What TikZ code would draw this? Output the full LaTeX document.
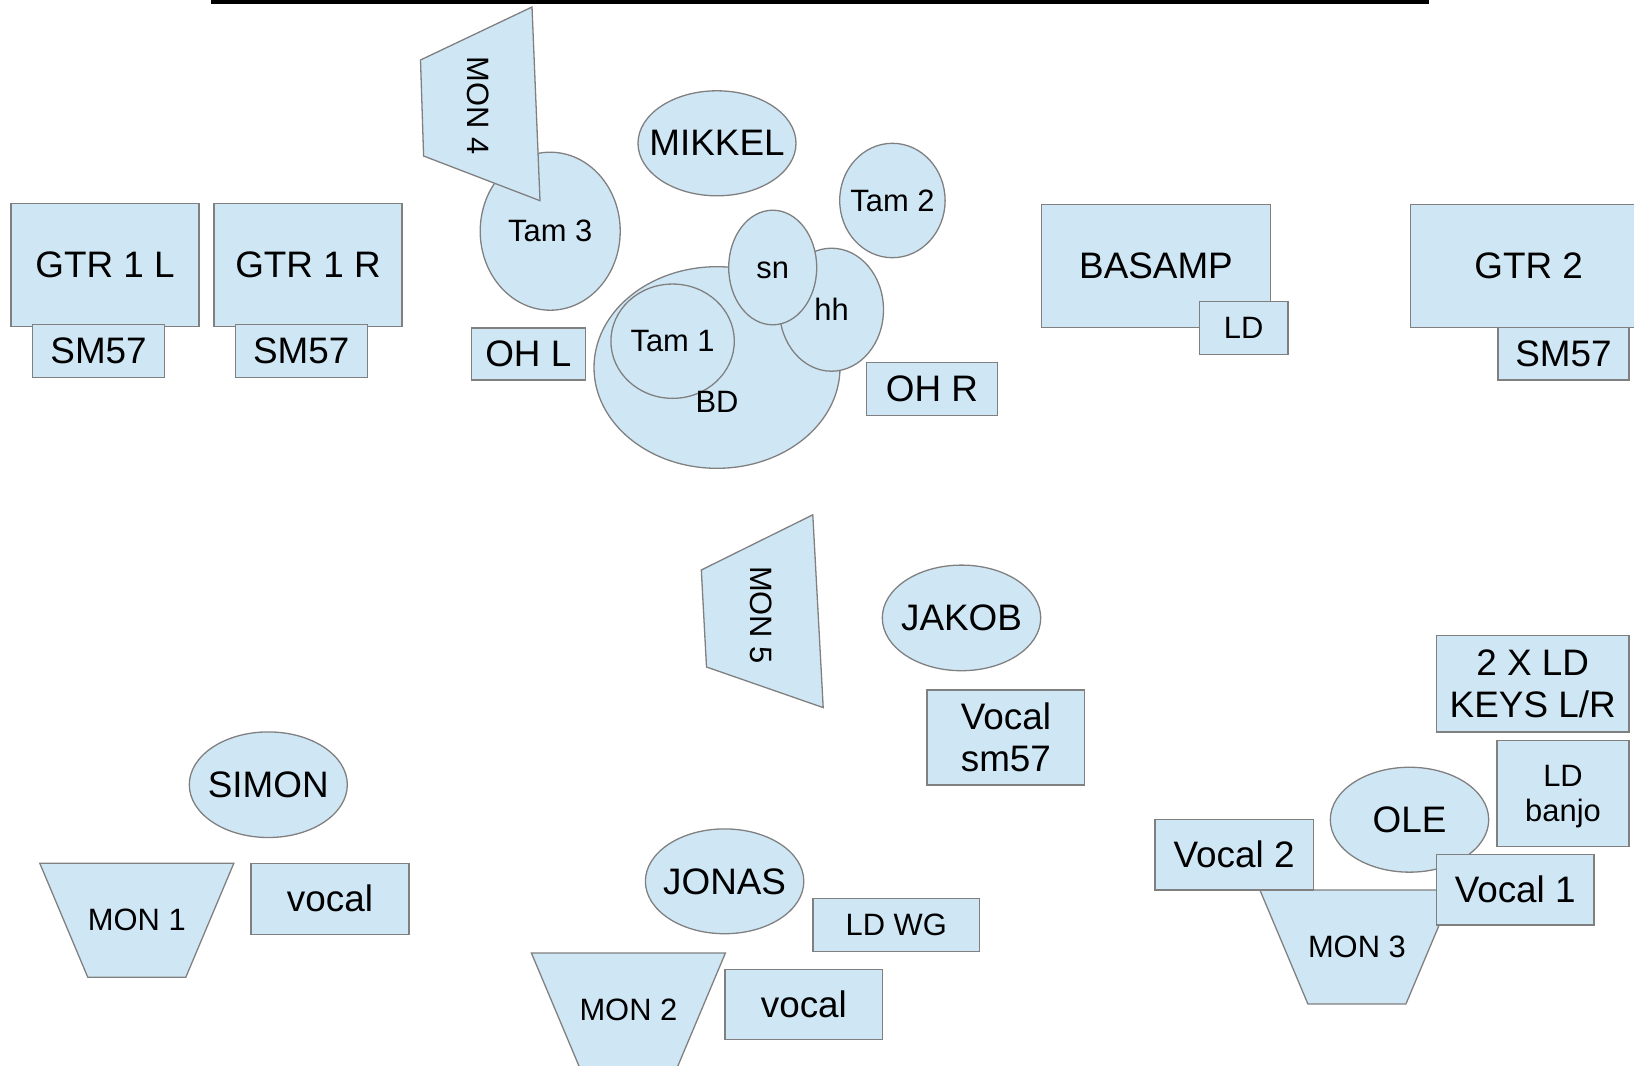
\documentclass[tikz,border=0pt]{standalone}
\usepackage{fontspec}
\setmainfont{Liberation Sans}
\usetikzlibrary{calc,shapes.geometric}
\definecolor{stageblue}{RGB}{207,231,245}
\definecolor{stageedge}{RGB}{128,128,128}
\tikzset{
  stage/.style={
    fill=stageblue,
    draw=stageedge,
    line width=1.3bp
  },
  box/.style={stage, rectangle, inner sep=0pt, align=center},
  blob/.style={stage, ellipse, inner sep=0pt},
  bigtxt/.style={font=\fontsize{37}{42}\selectfont},
  smalltxt/.style={font=\fontsize{31}{35}\selectfont}
}
\newcommand{\wedgemon}[3]{%
  \draw[stage] ($(#2)+(-97,-57)$) -- ++(194,0) -- ++(-48,114)
    -- ++(-98,0) -- cycle;
  \node[smalltxt] (#1) at (#2) {#3};
}

\begin{document}
\begin{tikzpicture}[x=1bp, y=-1bp]
  \useasboundingbox (0,0) rectangle (1634,1065);
  \clip (0,0) rectangle (1634,1065);
  \fill[black] (211,0) rectangle (1428.5,3.5);
  \foreach \name/\x/\txt in {gtrL/105.1/GTR 1 L, gtrR/308/GTR 1 R} {
    \node[box, bigtxt, minimum width=188bp, minimum height=123bp]
      (\name) at (\x,264.7) {\txt};
  }
  \foreach \name/\x in {smA/98.6, smB/301.3} {
    \node[box, bigtxt, minimum width=132bp, minimum height=53bp]
      (\name) at (\x,350.8) {SM57};
  }
  \node[blob, minimum width=140bp, minimum height=158bp,
    label={[smalltxt]center:Tam 3}] (tamThree) at (550.2,231.2) {};
  \draw[stage] (532,7) -- (420.5,60) -- (423.6,156) -- (540,200.7) -- cycle;
  \node[smalltxt, rotate=-90] (monFour) at (478.5,105.8) {MON 4};
  \node[blob, minimum width=158bp, minimum height=105bp,
    label={[bigtxt]center:MIKKEL}] (mikkel) at (717,143.3) {};
  \node[box, bigtxt, minimum width=114bp, minimum height=52bp]
    (ohL) at (528.3,353.9) {OH L};
  \node[blob, minimum width=246bp, minimum height=201.6bp] (bd) at (717,367.5) {};
  \node[blob, minimum width=123.4bp, minimum height=114.3bp,
    label={[smalltxt]center:Tam 1}] (tamOne) at (672.6,341.2) {};
  \node[blob, minimum width=104bp, minimum height=123bp,
    label={[smalltxt]center:hh}] (hh) at (831.5,309.7) {};
  \node[blob, minimum width=88bp, minimum height=114.6bp,
    label={[smalltxt, yshift=-2.5bp]center:sn}] (sn) at (772.7,267.5) {};
  \node[smalltxt] (bdLabel) at (717,402) {BD};
  \node[blob, minimum width=105.4bp, minimum height=114.4bp,
    label={[smalltxt]center:Tam 2}] (tamTwo) at (892.4,200.5) {};
  \node[box, bigtxt, minimum width=131.4bp, minimum height=53bp]
    (ohR) at (931.9,389.2) {OH R};
  \node[box, bigtxt, minimum width=228.5bp, minimum height=123bp]
    (basamp) at (1156,266.2) {BASAMP};
  \node[box, smalltxt, minimum width=88.3bp, minimum height=53bp]
    (ldBass) at (1243.7,327.8) {LD};
  \node[box, bigtxt, minimum width=236.7bp, minimum height=123bp]
    (gtrTwo) at (1528.7,266.2) {GTR 2};
  \node[box, bigtxt, minimum width=131bp, minimum height=52.3bp]
    (smC) at (1563.5,353.9) {SM57};
  \draw[stage] (812.8,514.8) -- (701.3,570) -- (706.5,667) -- (823.2,707.6) -- cycle;
  \node[smalltxt, rotate=-90] (monFive) at (761,615) {MON 5};
  \node[blob, minimum width=158.4bp, minimum height=105.6bp,
    label={[bigtxt]center:JAKOB}] (jakob) at (961.5,617.9) {};
  \node[box, bigtxt, minimum width=157.8bp, minimum height=95bp]
    (vocalJakob) at (1005.9,737.5) {Vocal\\sm57};
  \node[box, bigtxt, minimum width=192.7bp, minimum height=96.7bp]
    (keys) at (1532.7,683.6) {2 X LD\\KEYS L/R};
  \node[box, smalltxt, minimum width=132bp, minimum height=106bp]
    (banjo) at (1563,793.4) {LD\\\smash{banjo}};
  \node[blob, minimum width=158.4bp, minimum height=104.9bp,
    label={[bigtxt]center:OLE}] (ole) at (1409.5,819.7) {};
  \wedgemon{monThree}{1356.9,947}{MON 3}
  \node[box, bigtxt, minimum width=158.4bp, minimum height=70.4bp]
    (vocalTwo) at (1234.1,854.8) {Vocal 2};
  \node[box, bigtxt, minimum width=157.8bp, minimum height=70.8bp]
    (vocalOne) at (1515.2,889.7) {Vocal 1};
  \node[blob, minimum width=158bp, minimum height=105.6bp,
    label={[bigtxt]center:SIMON}] (simon) at (268.3,784.7) {};
  \wedgemon{monOne}{136.8,920.3}{MON 1}
  \node[box, bigtxt, minimum width=158bp, minimum height=70.9bp]
    (vocalSimon) at (330,898.7) {vocal};
  \node[blob, minimum width=158.4bp, minimum height=104.8bp,
    label={[bigtxt]center:JONAS}] (jonas) at (724.6,881.3) {};
  \wedgemon{monTwo}{628.4,1010}{MON 2}
  \node[box, smalltxt, minimum width=166.4bp, minimum height=52.6bp]
    (ldWG) at (896.2,925) {LD WG};
  \node[box, bigtxt, minimum width=157.8bp, minimum height=70.5bp]
    (vocalJonas) at (803.9,1004.5) {vocal};
\end{tikzpicture}
\end{document}
